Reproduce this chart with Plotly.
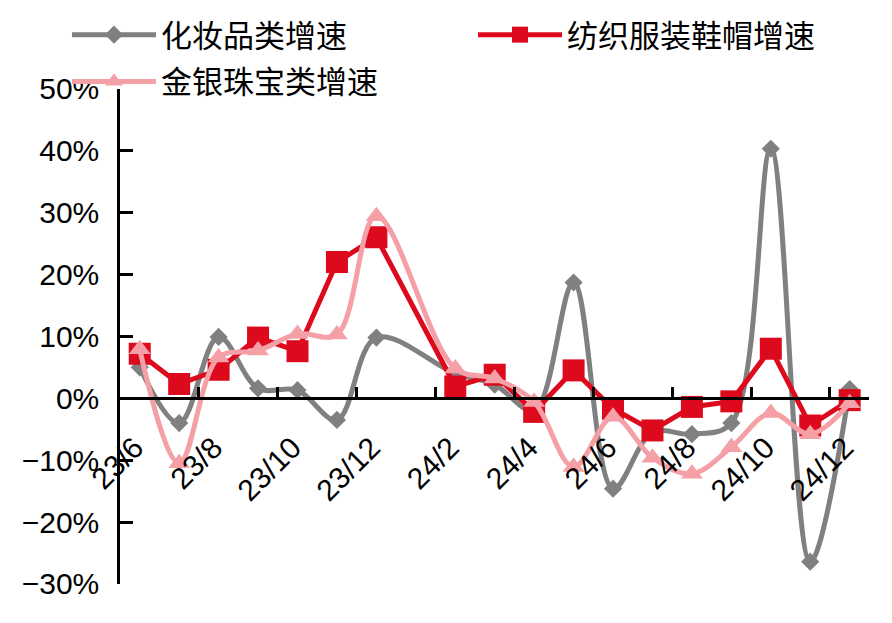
import plotly.graph_objects as go

months = ["23/6", "23/7", "23/8", "23/9", "23/10", "23/11", "23/12", "24/1",
          "24/2", "24/3", "24/4", "24/5", "24/6", "24/7", "24/8", "24/9",
          "24/10", "24/11", "24/12"]
tick_months = ["23/6", "23/8", "23/10", "23/12", "24/2", "24/4",
               "24/6", "24/8", "24/10", "24/12"]

# 社零分项同比增速（%），24/1 无单月数据
cosmetics = [5.0, -4.0, 9.9, 1.6, 1.3, -3.5, 9.8, None,
             4.0, 2.2, -2.0, 18.7, -14.6, -5.5, -5.8, -4.0, 40.3, -26.4, 1.5]
textile = [7.2, 2.3, 4.6, 9.8, 7.6, 22.0, 26.0, None,
           1.9, 3.8, -2.2, 4.5, -1.7, -5.2, -1.4, -0.5, 8.0, -4.4, -0.3]
jewelry = [7.9, -10.5, 6.6, 7.7, 10.4, 10.3, 29.4, None,
           4.8, 3.2, -0.6, -11.1, -3.0, -9.6, -12.2, -7.9, -2.4, -5.8, -0.8]

FONT = "Liberation Sans, Arial, Noto Sans CJK SC"
X_LEFT = 0.1301   # 横轴区域左沿，给纵轴标签留位置
Y_TOP = 0.8629    # 纵轴区域上沿，留出图例空间

fig = go.Figure()
fig.add_trace(go.Scatter(
    x=months, y=cosmetics, name="化妆品类增速", mode="lines+markers",
    connectgaps=True, line=dict(color="#808080", width=5, shape="spline", smoothing=1),
    marker=dict(symbol="diamond", size=14, color="#808080"), legend="legend"))
fig.add_trace(go.Scatter(
    x=months, y=textile, name="纺织服装鞋帽增速", mode="lines+markers",
    connectgaps=True, line=dict(color="#DD0A1E", width=5),
    marker=dict(symbol="square", size=22, color="#DD0A1E"), legend="legend2"))
fig.add_trace(go.Scatter(
    x=months, y=jewelry, name="金银珠宝类增速", mode="lines+markers",
    connectgaps=True, line=dict(color="#F4A0A6", width=5, shape="spline", smoothing=1),
    marker=dict(symbol="triangle-up", size=19, color="#F4A0A6"), legend="legend3"))


def leg(x, y):
    return dict(orientation="h", x=x, y=y, xanchor="left", yanchor="middle",
                itemwidth=84, font=dict(size=31), bgcolor="rgba(0,0,0,0)")


# 页面 body 自带 8px 边距，画布按 884x615 设置
fig.update_layout(
    width=884, height=615, showlegend=True,
    margin=dict(l=0, r=23, t=0, b=39),
    plot_bgcolor="white", paper_bgcolor="white",
    font=dict(family=FONT, color="black", size=28),
    legend=leg(0.0685, 0.9566),
    legend2=leg(0.5401, 0.9566),
    legend3=leg(0.0685, 0.875),
)
fig.update_xaxes(
    type="category", categoryorder="array", categoryarray=months,
    range=[-0.5, 18.49], domain=[X_LEFT, 1], automargin=False,
    tickmode="array", tickvals=tick_months, ticktext=tick_months,
    tickangle=-45, tickson="boundaries", ticks="inside", ticklen=11,
    tickwidth=2.5, tickcolor="black", showline=True, linecolor="black",
    linewidth=2.5, showgrid=False, zeroline=False,
    ticklabelstandoff=18, ticklabelshift=-5,
    anchor="free", position=Y_TOP * 30 / 80, tickfont=dict(size=30))
fig.update_yaxes(
    range=[-30, 50], dtick=10, ticksuffix="%", ticks="inside", ticklen=13,
    domain=[0, Y_TOP], automargin=False,
    tickwidth=2.5, tickcolor="black", showline=True, linecolor="black",
    linewidth=2.5, showgrid=False, zeroline=False, tickfont=dict(size=30),
    ticklabelstandoff=12)

fig.write_html("out.html")
